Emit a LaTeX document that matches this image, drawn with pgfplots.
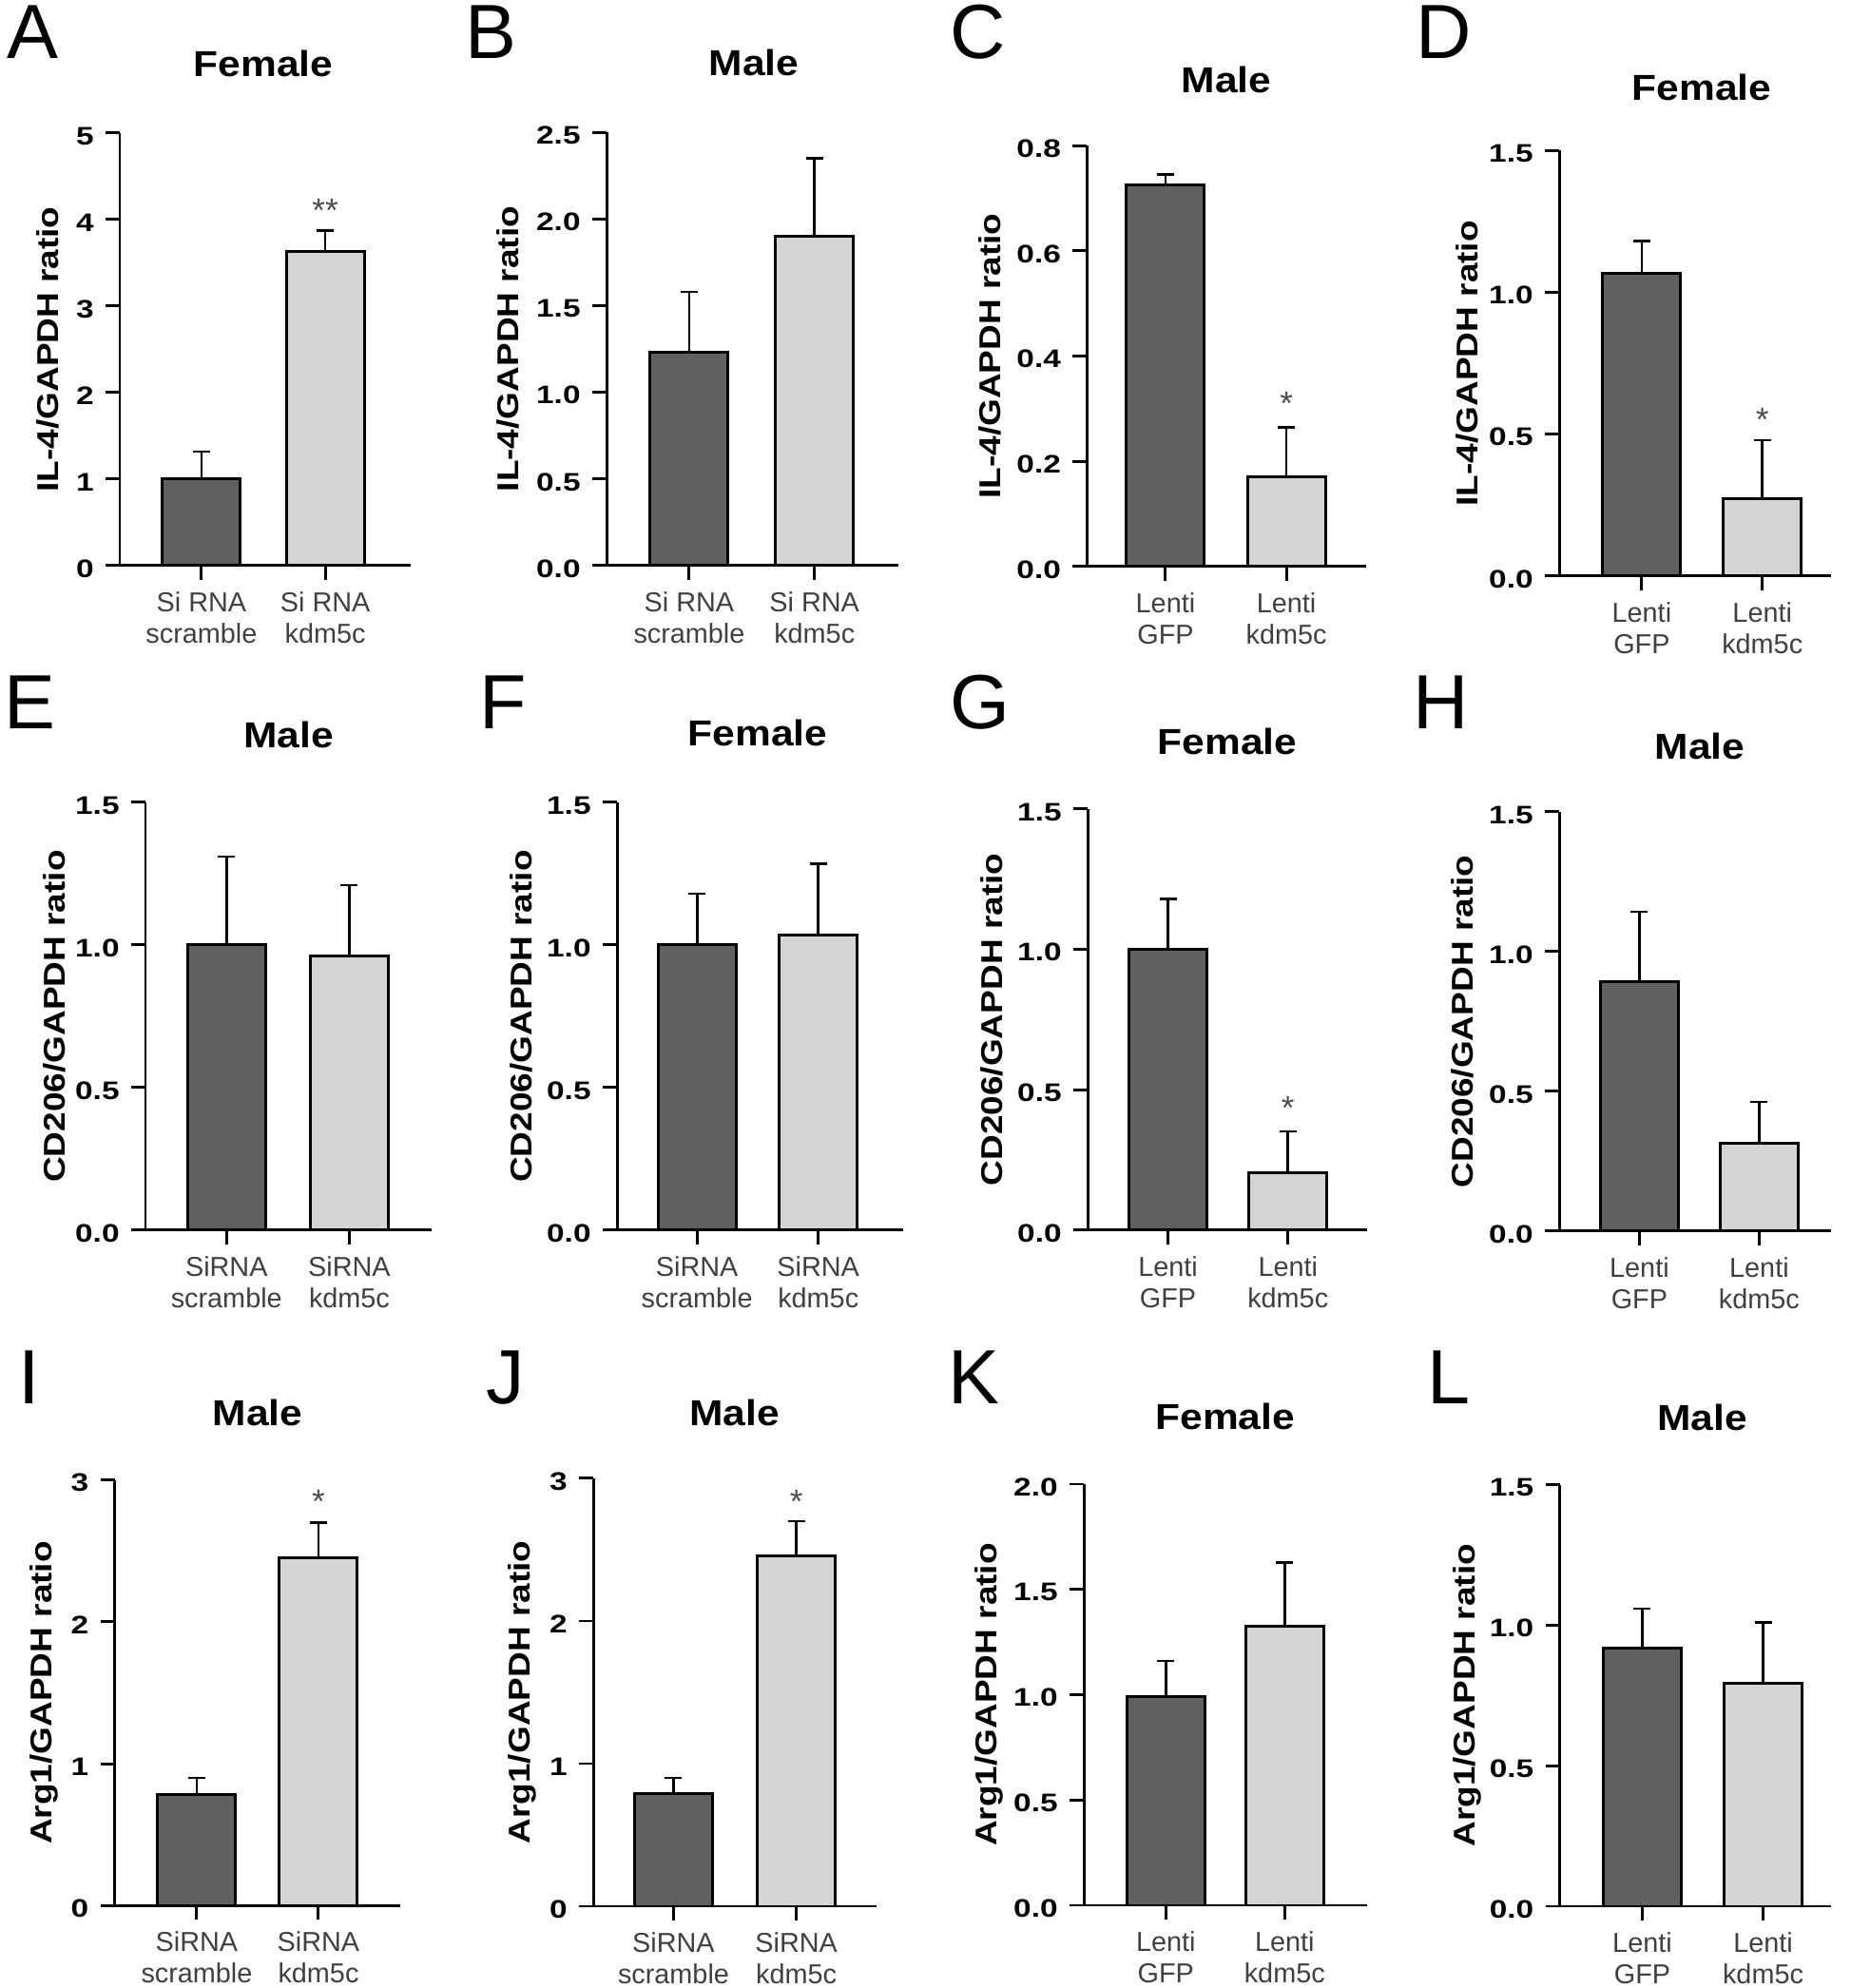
\documentclass[border=0pt]{standalone}
\usepackage{fontspec}
\setmainfont{Liberation Sans}
\newfontfamily\fA{Liberation Sans}[FakeStretch=1.12]
\newfontfamily\fB{Liberation Sans}[FakeStretch=1.17]
\newfontfamily\fC{Liberation Sans}[FakeStretch=1.25]
\usepackage{pgfplots}
\pgfplotsset{compat=1.18}
\definecolor{darkbar}{RGB}{96,96,96}
\definecolor{lightbar}{RGB}{212,212,212}
\definecolor{xlab}{RGB}{64,64,64}
\pgfplotsset{
  panel/.style={
    scale only axis, anchor=south west, clip=false,
    axis x line*=bottom, axis y line*=left,
    axis line style={line width=0.85pt,-},
    every tick/.style={line width=0.85pt, black},
    tick align=outside,
    major tick length=0.15cm,
    ymin=0, xtick={0,1},
    yticklabel style={font=\fC\bfseries\fontsize{7.6}{8}\selectfont, text=black, yshift=-0.03cm},
    xticklabel style={font=\fontsize{8.2}{9.4}\selectfont, text=xlab, align=center},
    ylabel style={font=\fB\bfseries\fontsize{9}{10}\selectfont, anchor=center},
    every axis title/.style={at={(axis description cs:0.5,1)}, anchor=center, yshift=0.71cm,
      font=\fA\bfseries\fontsize{10.8}{12}\selectfont},
  },
  sisp/.style={xticklabels={{Si RNA\\scramble},{Si RNA\\kdm5c}}},
  sinosp/.style={xticklabels={{SiRNA\\scramble},{SiRNA\\kdm5c}}},
  lenti/.style={xticklabels={{Lenti\\GFP},{Lenti\\kdm5c}}},
  dbar/.style={ybar, bar shift=0pt, bar width=0.82cm, fill=darkbar, draw=black, line width=0.85pt,
    error bars/.cd, y dir=plus, y explicit, error bar style={line width=0.75pt, black},
    error mark options={rotate=90, mark size=0.09cm, line width=0.75pt, black}},
  lbar/.style={ybar, bar shift=0pt, bar width=0.82cm, fill=lightbar, draw=black, line width=0.85pt,
    error bars/.cd, y dir=plus, y explicit, error bar style={line width=0.75pt, black},
    error mark options={rotate=90, mark size=0.09cm, line width=0.75pt, black}},
}
\newcommand{\sig}[2]{\node[anchor=north, inner sep=0pt, font=\fontsize{10}{10}\selectfont, text=black!70] at (axis cs:1,#1) {#2};}
\newcommand{\plabel}[3]{\node[anchor=base west, inner sep=0pt, font=\fontsize{23}{25}\selectfont] at (#1,#2) {#3};}
\begin{document}
\begin{tikzpicture}
\path[use as bounding box] (0,0) rectangle (19.46,20.91);
% ---------- Row 1 ----------
\begin{axis}[panel, sisp, at={(1.26cm,14.96cm)}, width=3.06cm, height=4.55cm,
  xmin=-0.66, xmax=1.69, ymax=5, ytick={0,1,2,3,4,5}, yticklabels={0,1,2,3,4,5},
  ylabel={IL-4/GAPDH ratio}, ylabel style={at={(axis description cs:-0.248,0.5)}},
  title={Female}, title style={at={(axis description cs:0.493,1)}, yshift=0.02cm}]
\addplot[dbar] coordinates {(0,1.0) +- (0,0.32)};
\addplot[lbar] coordinates {(1,3.63) +- (0,0.24)};
\sig{4.25}{**}
\end{axis}
\begin{axis}[panel, sisp, at={(6.38cm,14.96cm)}, width=3.07cm, height=4.557cm,
  xmin=-0.66, xmax=1.67, ymax=2.5, ytick={0,0.5,1,1.5,2,2.5}, yticklabels={0.0,0.5,1.0,1.5,2.0,2.5},
  ylabel={IL-4/GAPDH ratio}, ylabel style={at={(axis description cs:-0.339,0.5)}},
  title={Male}, title style={at={(axis description cs:0.505,1)}, yshift=0.02cm}]
\addplot[dbar] coordinates {(0,1.23) +- (0,0.35)};
\addplot[lbar] coordinates {(1,1.90) +- (0,0.45)};
\end{axis}
\begin{axis}[panel, lenti, at={(11.433cm,14.95cm)}, width=2.937cm, height=4.427cm,
  xmin=-0.65, xmax=1.66, ymax=0.8, ytick={0,0.2,0.4,0.6,0.8}, yticklabels={0.0,0.2,0.4,0.6,0.8},
  ylabel={IL-4/GAPDH ratio}, ylabel style={at={(axis description cs:-0.347,0.5)}},
  title={Male}, title style={at={(axis description cs:0.5,1)}, yshift=-0.02cm}]
\addplot[dbar] coordinates {(0,0.725) +- (0,0.02)};
\addplot[lbar] coordinates {(1,0.170) +- (0,0.095)};
\sig{0.333}{*}
\end{axis}
\begin{axis}[panel, lenti, at={(16.40cm,14.85cm)}, width=2.86cm, height=4.475cm,
  xmin=-0.685, xmax=1.57, ymax=1.5, ytick={0,0.5,1,1.5}, yticklabels={0.0,0.5,1.0,1.5},
  ylabel={IL-4/GAPDH ratio}, ylabel style={at={(axis description cs:-0.339,0.5)}},
  title={Female}, title style={at={(axis description cs:0.524,1)}, yshift=-0.04cm}]
\addplot[dbar] coordinates {(0,1.069) +- (0,0.112)};
\addplot[lbar] coordinates {(1,0.273) +- (0,0.206)};
\sig{0.595}{*}
\end{axis}
% ---------- Row 2 ----------
\begin{axis}[panel, sinosp, at={(1.53cm,7.97cm)}, width=3.01cm, height=4.50cm,
  xmin=-0.66, xmax=1.67, ymax=1.5, ytick={0,0.5,1,1.5}, yticklabels={0.0,0.5,1.0,1.5},
  ylabel={CD206/GAPDH ratio}, ylabel style={at={(axis description cs:-0.319,0.5)}},
  title={Male}, title style={at={(axis description cs:0.5,1)}}]
\addplot[dbar] coordinates {(0,1.0) +- (0,0.31)};
\addplot[lbar] coordinates {(1,0.96) +- (0,0.25)};
\end{axis}
\begin{axis}[panel, sinosp, at={(6.49cm,7.97cm)}, width=3.01cm, height=4.50cm,
  xmin=-0.66, xmax=1.70, ymax=1.5, ytick={0,0.5,1,1.5}, yticklabels={0.0,0.5,1.0,1.5},
  ylabel={CD206/GAPDH ratio}, ylabel style={at={(axis description cs:-0.336,0.5)}},
  title={Female}, title style={at={(axis description cs:0.492,1)}, yshift=0.02cm}]
\addplot[dbar] coordinates {(0,1.0) +- (0,0.18)};
\addplot[lbar] coordinates {(1,1.034) +- (0,0.25)};
\end{axis}
\begin{axis}[panel, lenti, at={(11.44cm,7.97cm)}, width=2.94cm, height=4.43cm,
  xmin=-0.67, xmax=1.66, ymax=1.5, ytick={0,0.5,1,1.5}, yticklabels={0.0,0.5,1.0,1.5},
  ylabel={CD206/GAPDH ratio}, ylabel style={at={(axis description cs:-0.344,0.5)}},
  title={Female}, title style={at={(axis description cs:0.5,1)}}]
\addplot[dbar] coordinates {(0,1.0) +- (0,0.18)};
\addplot[lbar] coordinates {(1,0.204) +- (0,0.148)};
\sig{0.477}{*}
\end{axis}
\begin{axis}[panel, lenti, at={(16.40cm,7.96cm)}, width=2.86cm, height=4.41cm,
  xmin=-0.67, xmax=1.60, ymax=1.5, ytick={0,0.5,1,1.5}, yticklabels={0.0,0.5,1.0,1.5},
  ylabel={CD206/GAPDH ratio}, ylabel style={at={(axis description cs:-0.357,0.5)}},
  title={Male}, title style={at={(axis description cs:0.517,1)}, yshift=-0.02cm}]
\addplot[dbar] coordinates {(0,0.892) +- (0,0.251)};
\addplot[lbar] coordinates {(1,0.316) +- (0,0.147)};
\end{axis}
% ---------- Row 3 ----------
\begin{axis}[panel, sinosp, at={(1.207cm,0.867cm)}, width=3.003cm, height=4.476cm,
  xmin=-0.674, xmax=1.672, ymax=3, ytick={0,1,2,3}, yticklabels={0,1,2,3},
  ylabel={Arg1/GAPDH ratio}, ylabel style={at={(axis description cs:-0.246,0.5)}},
  title={Male}, title style={at={(axis description cs:0.5,1)}}]
\addplot[dbar] coordinates {(0,0.784) +- (0,0.116)};
\addplot[lbar] coordinates {(1,2.453) +- (0,0.245)};
\sig{2.933}{*}
\end{axis}
\begin{axis}[panel, sinosp, at={(6.24cm,0.86cm)}, width=2.976cm, height=4.50cm,
  xmin=-0.654, xmax=1.65, ymax=3, ytick={0,1,2,3}, yticklabels={0,1,2,3},
  ylabel={Arg1/GAPDH ratio}, ylabel style={at={(axis description cs:-0.252,0.5)}},
  title={Male}, title style={at={(axis description cs:0.5,1)}, yshift=-0.02cm}]
\addplot[dbar] coordinates {(0,0.789) +- (0,0.111)};
\addplot[lbar] coordinates {(1,2.455) +- (0,0.245)};
\sig{2.922}{*}
\end{axis}
\begin{axis}[panel, lenti, at={(11.40cm,0.87cm)}, width=2.975cm, height=4.43cm,
  xmin=-0.69, xmax=1.69, ymax=2.0, ytick={0,0.5,1,1.5,2}, yticklabels={0.0,0.5,1.0,1.5,2.0},
  ylabel={Arg1/GAPDH ratio}, ylabel style={at={(axis description cs:-0.336,0.5)}},
  title={Female}, title style={at={(axis description cs:0.5,1)}}]
\addplot[dbar] coordinates {(0,0.99) +- (0,0.171)};
\addplot[lbar] coordinates {(1,1.327) +- (0,0.301)};
\end{axis}
\begin{axis}[panel, lenti, at={(16.407cm,0.86cm)}, width=2.853cm, height=4.433cm,
  xmin=-0.683, xmax=1.563, ymax=1.5, ytick={0,0.5,1,1.5}, yticklabels={0.0,0.5,1.0,1.5},
  ylabel={Arg1/GAPDH ratio}, ylabel style={at={(axis description cs:-0.34,0.5)}},
  title={Male}, title style={at={(axis description cs:0.525,1)}}]
\addplot[dbar] coordinates {(0,0.917) +- (0,0.142)};
\addplot[lbar] coordinates {(1,0.793) +- (0,0.217)};
\end{axis}
% ---------- Panel letters ----------
\plabel{0.07}{20.29}{A}
\plabel{4.89}{20.29}{B}
\plabel{9.99}{20.29}{C}
\plabel{14.89}{20.29}{D}
\plabel{0.04}{13.24}{E}
\plabel{5.04}{13.24}{F}
\plabel{9.99}{13.24}{G}
\plabel{14.86}{13.24}{H}
\plabel{0.19}{6.14}{I}
\plabel{5.11}{6.14}{J}
\plabel{9.97}{6.14}{K}
\plabel{15.01}{6.14}{L}
\end{tikzpicture}
\end{document}
